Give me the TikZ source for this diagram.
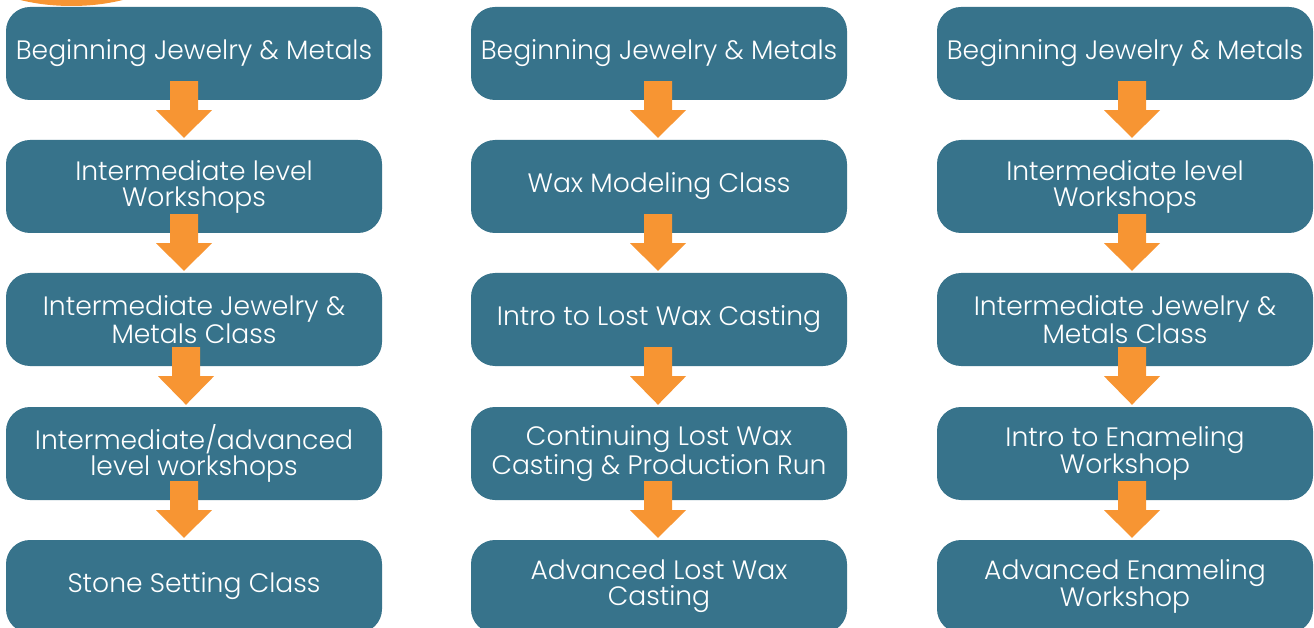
\documentclass[tikz,border=0pt]{standalone}
\usepackage{fontspec}
\setmainfont{Poppins Light}
\usetikzlibrary{calc}
\definecolor{boxc}{RGB}{55,115,139}
\definecolor{arrowc}{RGB}{247,149,51}
\tikzset{
  stagebox/.style={rectangle, rounded corners=24pt, fill=boxc, text=white,
    minimum width=376pt, minimum height=93pt, inner sep=0pt, align=center,
    font=\fontsize{26.6}{26}\selectfont},
  flowarrow/.style={fill=arrowc}
}
\newcommand\flowdown[3]{%
  \fill[flowarrow] ($(#1.south)+(#3-14,-19)$) -- ($(#1.south)+(#3+14,-19)$)
    -- ($(#1.south)+(#3+14,10)$) -- ($(#1.south)+(#3+28,10)$)
    -- ($(#2.north)+(#3,-2)$) -- ($(#1.south)+(#3-28,10)$)
    -- ($(#1.south)+(#3-14,10)$) -- cycle;}
\begin{document}
\begin{tikzpicture}[x=1pt,y=-1pt]
\useasboundingbox (0,0) rectangle (1314,628);
\clip (0,0) rectangle (1314,628);
\fill[arrowc] (71.5,-60) ellipse [x radius=123, y radius=66];
% column 1
\node[stagebox] (a1) at (194,53.5) {Beginning Jewelry \& Metals};
\node[stagebox] (a2) at (194,186.5) {Intermediate level\\Workshops};
\node[stagebox] (a3) at (194,319.5) {Intermediate Jewelry \&\\Metals Class};
\node[stagebox] (a4) at (194,453.5) {Intermediate/advanced\\level workshops};
\node[stagebox] (a5) at (194,586.5) {Stone Setting Class};
% column 2
\node[stagebox] (b1) at (659,53.5) {Beginning Jewelry \& Metals};
\node[stagebox] (b2) at (659,186.5) {Wax Modeling Class};
\node[stagebox] (b3) at (659,319.5) {Intro to Lost Wax Casting};
\node[stagebox] (b4) at (659,453.5) {Continuing Lost Wax\\Casting \& Production Run};
\node[stagebox] (b5) at (659,586.5) {Advanced Lost Wax\\Casting};
% column 3
\node[stagebox] (c1) at (1125,53.5) {Beginning Jewelry \& Metals};
\node[stagebox] (c2) at (1125,186.5) {Intermediate level\\Workshops};
\node[stagebox] (c3) at (1125,319.5) {Intermediate Jewelry \&\\Metals Class};
\node[stagebox] (c4) at (1125,453.5) {Intro to Enameling\\Workshop};
\node[stagebox] (c5) at (1125,586.5) {Advanced Enameling\\Workshop};
% arrows
\flowdown{a1}{a2}{-10}
\flowdown{a2}{a3}{-10}
\flowdown{a3}{a4}{-8}
\flowdown{a4}{a5}{-10}
\flowdown{b1}{b2}{-1}
\flowdown{b2}{b3}{-1}
\flowdown{b3}{b4}{-1}
\flowdown{b4}{b5}{-1}
\flowdown{c1}{c2}{7}
\flowdown{c2}{c3}{7}
\flowdown{c3}{c4}{7}
\flowdown{c4}{c5}{7}
\end{tikzpicture}
\end{document}
